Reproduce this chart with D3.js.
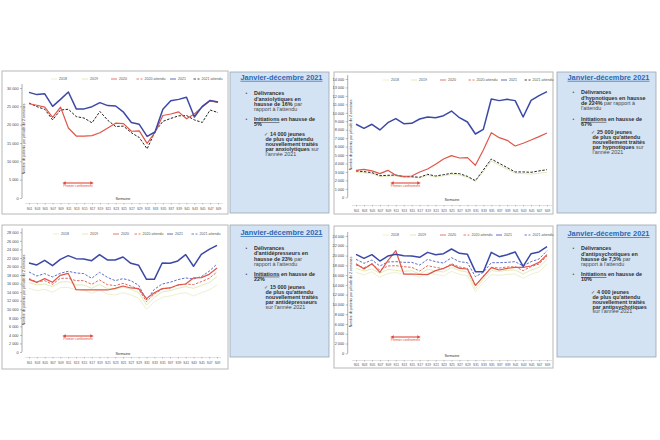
<!DOCTYPE html>
<html><head><meta charset="utf-8">
<script src="https://cdn.jsdelivr.net/npm/d3@7/dist/d3.min.js"></script>
<style>body{margin:0;background:#fff}svg{display:block;font-family:"Liberation Sans",Arial,sans-serif}</style>
</head><body><svg id="c" width="660" height="440"></svg>
<script>
// ---------- DATA ----------
const periods = ["S01","S03","S05","S07","S09","S11","S13","S15","S17","S19","S21","S23","S25","S27","S29","S31","S33","S35","S37","S39","S41","S43","S45","S47","S49"];
const seriesNames = ["2018","2019","2020","2020 attendu","2021","2021 attendu"];

// Anxiolytiques
const anx2021    = [28800,28200,28400,25000,26900,28900,24300,24300,24900,26000,25200,25100,23400,20600,20100,16800,18000,24200,26500,26900,27500,22100,25000,26600,26200];
const anx2020    = [25700,25300,24800,22000,24800,19100,16900,16900,17000,17800,19100,20400,20300,18200,18300,14900,17900,22500,22900,23500,21600,22900,24800,26500,26100];
const anx2021Att = [25900,24900,24200,21300,24000,24200,22200,21800,20500,23600,21200,19500,19600,17800,16500,13400,18100,20900,21700,22400,22500,21300,20600,24000,23300];
const anxTicks   = [0,5000,10000,15000,20000,25000,30000];

// Hypnotiques
const hyp2021    = [8640,8160,8640,7970,8830,9310,8710,8750,9270,9500,9420,9660,10210,9420,8910,7490,8040,11630,11440,11590,11440,9500,11470,12030,12500];
const hyp2020    = [3190,3310,3120,2800,3190,2600,2480,2520,3000,3350,3900,4530,4930,4650,4690,3790,5600,7650,7060,6740,6070,6390,6780,7180,7610];
const hyp2021Att = [3120,3040,2920,2560,2600,2640,2440,2440,2370,2720,2520,2680,2840,2800,2480,1970,3230,4530,4020,3510,3000,3000,2960,3120,3270];
const hyp2019    = [3000,2900,2800,2450,2500,2550,2350,2350,2300,2600,2400,2550,2700,2650,2350,1900,3000,4300,3800,3300,2850,2800,2750,2850,2950];
const hypTicks   = [0,1000,2000,3000,4000,5000,6000,7000,8000,9000,10000,11000,12000,13000,14000];

// Antidépresseurs
const adp2021    = [20830,20360,21450,20200,21680,22540,21840,21760,21370,22780,21530,21530,22230,20750,20280,17000,17000,20830,20750,21300,22780,20050,22850,24020,24960];
const adp2020    = [17000,16300,17160,16300,17940,18410,14590,14510,14510,14510,14510,14900,15440,14980,14820,12480,13880,14820,14980,15680,15910,17320,17390,18170,19660];
const adp2021Att = [18720,17780,18330,17550,18410,18880,18490,18330,17240,18640,17470,16690,17160,16690,15600,12170,14660,15910,16300,16930,17320,17080,17630,18880,20590];
const adp2020Att = [17160,16380,16690,15830,17240,17240,16690,16690,15830,16850,15760,15520,16070,15440,14660,11780,13570,14740,14980,15600,15910,15760,16460,17240,18720];
const adp2019    = [16220,15680,15910,15290,16380,16460,15680,15680,14900,15830,14820,14660,15210,14660,13880,11000,12790,14040,14350,14900,15290,14900,15600,16220,17630];
const adp2018    = [14900,14350,14660,13960,15050,15130,14510,14510,13730,14510,13570,13340,13880,13340,12560,9980,11780,12790,13100,13570,13880,13100,13880,14510,15680];
const adpTicks   = [0,2000,4000,6000,8000,10000,12000,14000,16000,18000,20000,22000,24000,26000,28000];

// Antipsychotiques
const aps2021    = [20250,19430,20180,18880,19900,20250,19970,19900,19630,20650,20180,20380,21340,20450,20250,16700,16700,20650,19770,20180,20730,17790,20380,20730,21810];
const aps2020    = [18340,17250,18340,16570,18950,21000,16220,16220,16160,16090,16910,17380,18130,17380,17250,13910,15680,17520,17040,17380,17590,17590,17860,18610,20180];
const aps2021Att = [19220,18410,19090,17860,18680,18750,18610,18610,18060,19220,18750,18470,19560,18750,18540,15680,16570,18540,18540,18610,18750,17860,18750,19290,21000];
const aps2020Att = [18060,17520,18200,17040,17860,17930,17730,17590,16840,17930,17590,17310,18340,17660,17380,13770,15820,17590,17450,17660,17730,16910,17730,18270,19900];
const aps2019    = [17380,16840,17250,16360,17180,16980,16770,16910,16220,17180,16910,16630,17590,16910,16630,13220,15130,16910,16770,16980,17040,16220,17040,17590,19220];
const aps2018    = [16570,16020,16700,15540,16360,16500,16220,16160,15540,16500,16160,15820,16770,16160,15880,12610,14450,16090,15950,16160,16220,15340,16160,16700,18270];
const apsTicks   = [0,2000,4000,6000,8000,10000,12000,14000,16000,18000,20000,22000,24000];

const yTitle = "Nombre de patients par période de 2 semaines";
const xTitle = "Semaine";
const confText = "Premier confinement";
const boxTitle = "Janvier-décembre 2021";

// ---------- STYLES ----------
const baseStyle = {
  "2018": {color:"#e6eec2", w:0.8, dash:null},
  "2019": {color:"#d8e6a6", w:0.8, dash:null},
  "2020": {color:"#e0564a", w:1.2, dash:null},
  "2020 attendu": {color:"#e0564a", w:0.9, dash:"2.5,1.5"},
  "2021": {color:"#3b48a6", w:1.5, dash:null},
  "2021 attendu": {color:"#4d5ec2", w:0.9, dash:"2.5,1.5"}
};
const fmt = v => v === 0 ? "0" : d3.format(",")(v).replace(/,/g, " ");
const svg = d3.select("#c");

const defs = svg.append("defs");
["s","e"].forEach(k => {
  defs.append("marker").attr("id","arr"+k).attr("viewBox","0 0 6 6").attr("refX",3).attr("refY",3)
    .attr("markerWidth",3.2).attr("markerHeight",3.2).attr("orient","auto-start-reverse")
    .append("path").attr("d","M0,0 L6,3 L0,6 Z").attr("fill","#e04a3c");
});

function drawPanel(cfg) {
  const g = svg.append("g");
  g.append("rect").attr("x",cfg.frame[0]).attr("y",cfg.frame[1]).attr("width",cfg.frame[2]).attr("height",cfg.frame[3])
    .attr("fill","#fff").attr("stroke","#b8b8b8").attr("stroke-width",1);
  const y = d3.scaleLinear().domain([0, cfg.ticks[cfg.ticks.length-1]]).range([cfg.yZero, cfg.yTop]);
  const step = (cfg.px1 - cfg.px0) / (periods.length - 1);
  const x = d3.scalePoint().domain(periods).range([cfg.px0 - step/2, cfg.px1 + step/2]).padding(0.5);

  const ya = g.append("g").attr("transform",`translate(${cfg.axisX},0)`)
    .call(d3.axisLeft(y).tickValues(cfg.ticks).tickSize(2).tickSizeOuter(0).tickFormat(fmt));
  ya.select(".domain").attr("stroke","#777").attr("stroke-width",0.6);
  ya.selectAll(".tick line").attr("stroke","#777").attr("stroke-width",0.5);
  ya.selectAll("text").attr("font-size",3.8).attr("fill","#444").attr("x",-3.5).attr("font-family","Liberation Sans, Arial");
  ya.select(".domain").attr("d",`M0,${cfg.yTop-4}V${cfg.yZero}`);

  const xa = g.append("g").attr("transform",`translate(0,${cfg.xAxisY})`)
    .call(d3.axisBottom(x).tickSize(1.5).tickSizeOuter(0));
  xa.select(".domain").attr("stroke","#888").attr("stroke-width",0.5).attr("stroke-dasharray","1,1");
  xa.selectAll(".tick line").attr("stroke","#888").attr("stroke-width",0.5);
  xa.selectAll("text").attr("font-size",3.2).attr("fill","#555").attr("y",cfg.xLabY - cfg.xAxisY).attr("dy",0).attr("font-family","Liberation Sans, Arial");

  g.append("text").attr("transform",`translate(${cfg.yTitleX},${cfg.yTitleY}) rotate(-90)`)
    .attr("text-anchor","middle").attr("font-size",3.4).attr("fill","#333").text(yTitle);
  g.append("text").attr("x",cfg.semX).attr("y",cfg.semY).attr("text-anchor","middle")
    .attr("font-size",3.8).attr("fill","#333").text(xTitle);

  const line = d3.line().x((d,i)=>x(periods[i])).y(d=>y(d));
  const order = ["2018","2019","2020 attendu","2021 attendu","2020","2021"];
  order.forEach(name => {
    const vals = cfg.series[name];
    if (!vals) return;
    const st = Object.assign({}, baseStyle[name], (cfg.override||{})[name]||{});
    g.append("path").datum(vals).attr("d",line).attr("fill","none")
      .attr("stroke",st.color).attr("stroke-width",st.w)
      .attr("stroke-dasharray",st.dash).attr("stroke-linejoin","round");
  });

  // legend (x = label centre)
  seriesNames.forEach((name,i) => {
    const st = Object.assign({}, baseStyle[name], (cfg.override||{})[name]||{});
    const t = g.append("text").attr("x",cfg.legX[i]).attr("y",cfg.legY+1.3).attr("font-size",3.6)
      .attr("fill","#555").attr("text-anchor","middle").text(name);
    const bb = t.node().getBBox();
    g.append("line").attr("x1",bb.x-8).attr("x2",bb.x-2).attr("y1",cfg.legY).attr("y2",cfg.legY)
      .attr("stroke",st.color).attr("stroke-width",0.8).attr("stroke-dasharray",st.dash);
  });

  // confinement arrow
  g.append("line").attr("x1",cfg.arrow[0]).attr("x2",cfg.arrow[1]).attr("y1",cfg.arrow[2]).attr("y2",cfg.arrow[2])
    .attr("stroke","#e04a3c").attr("stroke-width",1.1)
    .attr("marker-start","url(#arrs)").attr("marker-end","url(#arre)");
  g.append("text").attr("x",(cfg.arrow[0]+cfg.arrow[1])/2).attr("y",cfg.arrow[2]+4.2).attr("text-anchor","middle")
    .attr("font-size",3.2).attr("fill","#e04a3c").text(confText);
}

drawPanel({frame:[2,71,226,143], axisX:22, px0:29, px1:218, yZero:198, yTop:88, ticks:anxTicks,
  xAxisY:203, xLabY:210, yTitleX:25, yTitleY:139, semX:123, semY:200, legY:79, legX:[63,94,123,155,182,212],
  arrow:[64,92,183], series:{"2020":anx2020,"2021":anx2021,"2021 attendu":anx2021Att},
  override:{"2021 attendu":{color:"#222", w:1}}});
drawPanel({frame:[334,72,219,142], axisX:347.7, px0:356, px1:547, yZero:197.3, yTop:79, ticks:hypTicks,
  xAxisY:205, xLabY:212, yTitleX:352, yTitleY:135, semX:452, semY:201, legY:80, legX:[395,423,452,487,513,543],
  arrow:[392,419,183], series:{"2019":hyp2019,"2020":hyp2020,"2021":hyp2021,"2021 attendu":hyp2021Att},
  override:{"2021 attendu":{color:"#222", w:1}}});
drawPanel({frame:[2,225,226,144], axisX:22, px0:29, px1:217, yZero:352, yTop:232.3, ticks:adpTicks,
  xAxisY:357, xLabY:364, yTitleX:25, yTitleY:290, semX:123, semY:355, legY:234, legX:[65,94,125,153,179,210],
  arrow:[64,92,336], series:{"2018":adp2018,"2019":adp2019,"2020":adp2020,"2020 attendu":adp2020Att,"2021":adp2021,"2021 attendu":adp2021Att}});
drawPanel({frame:[334,226,219,142], axisX:347.7, px0:356, px1:547, yZero:353.3, yTop:236, ticks:apsTicks,
  xAxisY:360, xLabY:366, yTitleX:352, yTitleY:292, semX:452, semY:357, legY:235, legX:[395,422,452,482,508,543],
  arrow:[392,419,337], series:{"2018":aps2018,"2019":aps2019,"2020":aps2020,"2020 attendu":aps2020Att,"2021":aps2021,"2021 attendu":aps2021Att}});

// ---------- TEXT BOXES ----------
function drawBox(b) {
  const g = svg.append("g");
  g.append("rect").attr("x",b.x).attr("y",b.y).attr("width",b.w).attr("height",b.h)
    .attr("fill","#d3e3f3").attr("stroke","#9aa6b2").attr("stroke-width",0.8);
  g.append("text").attr("x",b.x+10.5).attr("y",b.y+b.titleDy+2.5).attr("font-size",7.2).attr("font-weight","bold")
    .attr("fill","#2b67b3").attr("text-decoration","underline").attr("textLength",82).attr("lengthAdjust","spacingAndGlyphs").text(boxTitle);
  b.lines.forEach(l => {
    const t = g.append("text").attr("x",b.x+l.dx).attr("y",b.y+l.dy+1.9).attr("font-size",5.4).attr("fill","#333");
    l.segs.forEach(s => {
      t.append("tspan").attr("font-weight",s.b?"bold":"normal").attr("fill",s.b?"#2e2e2e":"#4a4a4a")
        .attr("text-decoration",s.u?"underline":null).text(s.t);
    });
    if (l.mark) {
      g.append("text").attr("x",b.x+l.mark[0]).attr("y",b.y+l.dy+1.9).attr("font-size",l.mark[2]).attr("fill","#555").text(l.mark[1]);
    }
  });
}
function boxLines(ln, dys) {
  const [d1,d2,d3a,d4,i1,i2,c1,c2,c3,c4,c5] = dys;
  return [
    {dx:24, dy:d1, segs:[{t:"Délivrances",b:1}], mark:[15.5,"•",5]},
    {dx:24, dy:d2, segs:[{t:ln[0],b:1}]},
    {dx:24, dy:d3a, segs:ln[1]},
    {dx:24, dy:d4, segs:ln[2]},
    {dx:24, dy:i1, segs:[{t:"Initiations",b:1,u:1},{t:" en hausse de",b:1}], mark:[15.5,"•",5]},
    {dx:24, dy:i2, segs:[{t:ln[3],b:1}]},
    {dx:40, dy:c1, segs:[{t:ln[4],b:1}], mark:[34,"✓",4.5]},
    {dx:35.5, dy:c2, segs:[{t:"de plus qu'attendu",b:1}]},
    {dx:35.5, dy:c3, segs:[{t:"nouvellement traités",b:1}]},
    {dx:35.5, dy:c4, segs:ln[5]},
    {dx:35.5, dy:c5, segs:ln[6]}
  ];
}
drawBox({x:230,y:72,w:99,h:141,titleDy:5.3, lines:boxLines(
  ["d'anxiolytiques en",[{t:"hausse de 16%",b:1},{t:" par"}],[{t:"rapport à l'attendu"}],"5%","14 000 jeunes",
   [{t:"par anxiolytiques",b:1},{t:" sur"}],[{t:"l'année 2021"}]],
  [20.7,26.7,32.3,37.3,47.3,52.3,62,67,72,77,81.7])});
drawBox({x:557,y:72,w:99,h:141,titleDy:5.3, lines:boxLines(
  ["d'hypnotiques en hausse",[{t:"de 224%",b:1},{t:" par rapport à"}],[{t:"l'attendu"}],"67%","25 000 jeunes",
   [{t:"par hypnotiques",b:1},{t:" sur"}],[{t:"l'année 2021"}]],
  [20.3,25.7,31,36.3,47,51.7,59.7,65,70,75,80])});
drawBox({x:230,y:225,w:99,h:132,titleDy:7.5, lines:boxLines(
  ["d'antidépresseurs en",[{t:"hausse de 23%",b:1},{t:" par"}],[{t:"rapport à l'attendu"}],"22%","15 000 jeunes",
   [{t:"par antidépresseurs",b:1}],[{t:"sur l'année 2021"}]],
  [22.8,28.5,33.8,39.2,48.8,53.8,62.2,67.2,72.2,77.2,81.8])});
drawBox({x:557,y:225,w:99,h:132,titleDy:8.5, lines:boxLines(
  ["d'antipsychotiques en",[{t:"hausse de 7,5%",b:1},{t:" par"}],[{t:"rapport à l'attendu"}],"10%","4 000 jeunes",
   [{t:"par antipsychotiques",b:1}],[{t:"sur l'année 2021"}]],
  [23,28.7,34,39.4,49.5,54.5,67,72,77,82,86.5])});
</script></body></html>
